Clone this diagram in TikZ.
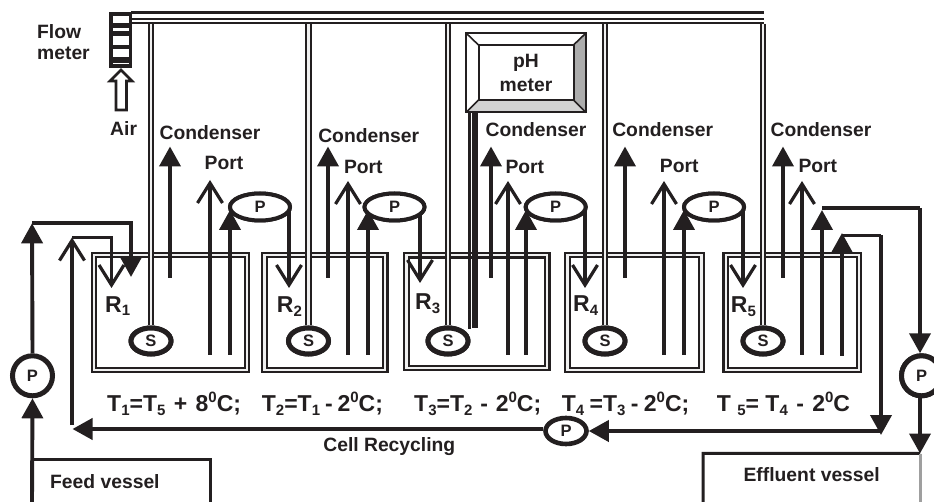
\documentclass[tikz,border=0pt]{standalone}
\usepackage{fontspec}
\setmainfont{Liberation Sans}
\usetikzlibrary{arrows.meta,shapes.geometric}
\newcommand{\lblfont}{\bfseries\fontsize{19.3}{23}\selectfont}
\newcommand{\pumpfont}{\bfseries\fontsize{16.5}{18}\selectfont}
\newcommand{\rfont}{\bfseries\fontsize{23}{26}\selectfont}
\newcommand{\tfont}{\bfseries\fontsize{23}{26}\selectfont}
\newcommand{\subs}[1]{\raisebox{-3.5pt}{\fontsize{15}{17}\selectfont #1}}
\newcommand{\sups}[1]{\raisebox{9pt}{\fontsize{15}{17}\selectfont #1}}
\definecolor{ink}{HTML}{231F20}
\tikzset{
  ink/.style={draw=ink,text=ink},
  lbl/.style={text=ink,font=\lblfont,inner sep=0pt,align=center},
  rlbl/.style={text=ink,font=\rfont,inner sep=0pt,anchor=base west},
  tlbl/.style={text=ink,font=\tfont,inner sep=0pt,anchor=base west},
  reactor/.style={rectangle,draw=ink,line width=2.2pt,double=gray!12,double distance=2.2pt,inner sep=0pt},
  airline/.style={draw=ink,line width=2pt,double=gray!12,double distance=2.8pt},
  pipe/.style={draw=ink,line width=3.9pt},
  thinpipe/.style={draw=ink,line width=3.2pt},
  filled/.style={pipe,-{Triangle[length=20pt,width=21pt]}},
  barb/.style={pipe,-{Straight Barb[length=20pt,width=25pt,line width=3.2pt]}},
  smallpump/.style={ellipse,draw=ink,fill=white,line width=4pt,minimum width=60pt,minimum height=27pt,inner sep=0pt,font=\pumpfont,text=ink},
  stirrer/.style={ellipse,draw=ink,fill=white,line width=5pt,minimum width=40pt,minimum height=26pt,inner sep=0pt,font=\pumpfont,text=ink},
  bigpump/.style={circle,draw=ink,fill=white,line width=5pt,minimum size=40pt,inner sep=0pt,font=\pumpfont,text=ink},
  vessel/.style={draw=ink,line width=3pt},
  cellband/.style={draw=ink}
}
\begin{document}
\begin{tikzpicture}[x=1pt,y=-1pt]
\clip (0,0) rectangle (934,502);
\fill[white] (0,0) rectangle (934,502);

% reactors
\node[reactor,minimum width=152.9pt,minimum height=114.9pt] (r1) at (170.4,312.4) {};
\node[reactor,minimum width=120.9pt,minimum height=114.9pt] (r2) at (324.9,312.6) {};
\node[reactor,minimum width=140.9pt,minimum height=112.9pt] (r3) at (476.9,311.7) {};
\node[reactor,minimum width=133.9pt,minimum height=114.9pt] (r4) at (634.5,312.4) {};
\node[reactor,minimum width=133.4pt,minimum height=114.9pt] (r5) at (792.3,312.4) {};

% stirrers
\node[stirrer] (s1) at (151,341) {S};
\node[stirrer] (s2) at (308.5,341) {S};
\node[stirrer] (s3) at (448,341) {S};
\node[stirrer] (s4) at (605,341) {S};
\node[stirrer] (s5) at (763,341) {S};

% air header
\coordinate (hl) at (131,18);
\coordinate (hr) at (764,18);
\draw[draw=ink,line width=2.2pt] ([yshift=-4.7pt]hl) -- ([yshift=-4.7pt]hr);
\draw[draw=ink,line width=2pt] ([yshift=-1.3pt]hl) -- ([yshift=-1.3pt]hr);
\draw[draw=ink,line width=2.8pt] ([yshift=5.6pt]hl) -- ([yshift=5.6pt]hr);
\foreach \i in {1,...,5}{
  \draw[airline] (s\i.north |- hl) ++(0,6) -- (s\i.north);
}
\foreach \i in {1,...,5}{
  \node[stirrer] at (s\i) {S};
}

% flow meter
\node[draw=ink,line width=3.8pt,fill=white,minimum width=19.5pt,minimum height=52pt,inner sep=0pt] (fm) at (120.7,39.7) {};
\draw[draw=ink,line width=4.4pt] (fm.west |- 0,25.5) -- (fm.east |- 0,25.5);
\draw[draw=ink,line width=5pt] (fm.west |- 0,33.5) -- (fm.east |- 0,33.5);
\draw[draw=ink,line width=4.3pt] (fm.west |- 0,47.2) -- (fm.east |- 0,47.2);
\draw[draw=ink,line width=5.4pt] (fm.west |- 0,60) -- (fm.east |- 0,60);

% air arrow
\coordinate (airtip) at (121,70);
\draw[draw=ink,line width=2.6pt,fill=white,line join=miter] (airtip) -- (110,81) -- (116,81) -- (116,110) -- (126.5,110) -- (126.5,81) -- (132,81) -- cycle;

% labels top-left
\node[lbl,anchor=west] (flow) at (37,31.7) {Flow};
\node[lbl,anchor=west] (meter) at (37,53.5) {meter};
\node[lbl,anchor=west] (air) at (110,128.5) {Air};

% pH meter
\coordinate (pa) at (466,33);
\coordinate (pb) at (586,33);
\coordinate (pc) at (586,112.5);
\coordinate (pd) at (466,112.5);
\coordinate (qa) at (478.5,45);
\coordinate (qb) at (573.5,45);
\coordinate (qc) at (573.5,100);
\coordinate (qd) at (478.5,100);
\fill[white] (pa) -- (pb) -- (pc) -- (pd) -- cycle;
\fill[gray!65] (pb) -- (pc) -- (qc) -- (qb) -- cycle;
\fill[gray!35] (pc) -- (pd) -- (qd) -- (qc) -- cycle;
\draw[draw=ink,line width=2pt,line join=miter] (pa) -- (pb) -- (pc) -- (pd) -- cycle;
\draw[draw=ink,line width=2pt,line join=miter] (qa) -- (qb) -- (qc) -- (qd) -- cycle;
\draw[draw=ink,line width=1.6pt] (pa) -- (qa) (pb) -- (qb) (pc) -- (qc) (pd) -- (qd);
\node[lbl] (ph1) at (526,63) {pH};
\node[lbl] (ph2) at (526,85) {meter};

% electrode
\coordinate (e1) at (469.5,329.5);
\coordinate (e2) at (475,328.5);
\draw[draw=ink,line width=2.6pt] (e1 |- pd) -- (e1);
\draw[draw=ink,line width=6pt] (e2 |- pd) -- (e2);

% condenser lines
\coordinate (c1) at (170,146.5);
\coordinate (c2) at (328,146.5);
\coordinate (c3) at (491,146.5);
\coordinate (c4) at (625,146.5);
\coordinate (c5) at (783,146.5);
\foreach \i in {1,...,5}{
  \draw[filled] (c\i |- 0,278) -- (c\i);
}

% port lines
\coordinate (o1) at (210,180);
\coordinate (o2) at (348,181);
\coordinate (o3) at (508,181);
\coordinate (o4) at (664,181);
\coordinate (o5) at (802,181);
\foreach \i in {1,...,5}{
  \draw[barb] (o\i |- 0,355) -- (o\i);
}

% small pumps and transfer lines
\node[smallpump] (p1) at (260,207) {P};
\node[smallpump] (p2) at (394.5,207) {P};
\node[smallpump] (p3) at (555.7,207) {P};
\node[smallpump] (p4) at (714,207) {P};

\coordinate (d2) at (289,288);
\coordinate (d3) at (420,283);
\coordinate (d4) at (585,288);
\coordinate (d5) at (743,288);
\draw[barb] (p1 -| d2) -- (d2);
\draw[barb] (p2 -| d3) -- (d3);
\draw[barb] (p3 -| d4) -- (d4);
\draw[barb] (p4 -| d5) -- (d5);
\node[smallpump] at (p1) {P};
\node[smallpump] at (p2) {P};
\node[smallpump] at (p3) {P};
\node[smallpump] at (p4) {P};

\coordinate (u1) at (230,210);
\coordinate (u2) at (368,210);
\coordinate (u3) at (526,210);
\coordinate (u4) at (684,210);
\foreach \i in {1,...,4}{
  \draw[filled] (u\i |- 0,355) -- (u\i);
}

% feed side
\node[bigpump] (pf) at (32.5,375.8) {P};
\coordinate (f0) at (32,223.3);
\coordinate (f1) at (131,223.3);
\coordinate (f2) at (131,277);
\coordinate (fb) at (32,502);
\draw[filled] (fb) -- (pf.south);
\draw[filled] (pf.north) -- (f0);
\draw[filled] (f0) -- (f1) -- (f2);

% effluent side
\node[bigpump] (pe) at (921.5,375.8) {P};
\coordinate (x0) at (822,210);
\coordinate (x1) at (920,208);
\draw[filled] (x0 |- 0,355) -- (x0);
\draw[thinpipe] (x0 |- x1) -- (x1);
\draw[filled] (x1) -- (x1 |- pe.north);
\node[bigpump] at (pe) {P};
\coordinate (ev) at (920,453.5);
\draw[filled] (x1 |- pe.south) -- (ev);

% recycling
\node[stirrer,minimum width=41pt,line width=4.6pt] (pr) at (566,431) {P};
\coordinate (y0) at (842,233);
\coordinate (y1) at (881,235.5);
\coordinate (y2) at (881,435);
\coordinate (y3) at (881,431);
\coordinate (l0) at (72.5,429);
\coordinate (l1) at (72,237.5);
\coordinate (l2) at (111.5,237.5);
\coordinate (l3) at (111.5,288);
\draw[filled] (y0 |- 0,356) -- (y0);
\draw[pipe] (y0 |- y1) -- (y1);
\draw[filled] (y1) -- (y2);
\draw[filled] (y3) -- (pr.east |- y3);
\draw[filled] (pr.west |- l0) -- (l0);
\draw[barb] (l1 |- 0,425) -- (l1);
\draw[barb] (l1) -- (l2) -- (l3);

% vessels
\draw[vessel] (fb) -- (32,459) -- (210,459) -- (210,502);
\draw[vessel] (703,502) -- (703,453.3) -- (ev);
\draw[vessel,draw=gray!75] (ev) -- (920,502);
\node[lbl,anchor=west] (feed) at (50,482) {Feed vessel};
\node[lbl] (eff) at (811.7,475) {Effluent vessel};
\node[lbl] (cell) at (389.3,447) {Cell Recycling};

% condenser / port labels
\node[lbl] (lc1) at (210,133) {Condenser};
\node[lbl] (lc2) at (368.7,135.7) {Condenser};
\node[lbl] (lc3) at (536,129.5) {Condenser};
\node[lbl] (lc4) at (662.7,129.5) {Condenser};
\node[lbl] (lc5) at (821,129.5) {Condenser};
\node[lbl] (lp1) at (224,163) {Port};
\node[lbl] (lp2) at (363.3,166.5) {Port};
\node[lbl] (lp3) at (524.8,166.5) {Port};
\node[lbl] (lp4) at (679.2,165.7) {Port};
\node[lbl] (lp5) at (817.8,165.7) {Port};

% reactor labels
\node[rlbl] (n1) at (105,312.3) {R\subs{1}};
\node[rlbl] (n2) at (276.7,313) {R\subs{2}};
\node[rlbl] (n3) at (415,310) {R\subs{3}};
\node[rlbl] (n4) at (573,312) {R\subs{4}};
\node[rlbl] (n5) at (730.7,313) {R\subs{5}};

% temperature labels
\node[tlbl] (t1) at (107,411.7) {T\subs{1}=T\subs{5}\kern2pt{} + \kern2pt 8\sups{0}C;};
\node[tlbl] (t2) at (261.7,411.7) {T\subs{2}=T\subs{1}\kern-1.5pt{} - \kern-1.5pt 2\sups{0}C;};
\node[tlbl] (t3) at (414,411.7) {T\subs{3}=T\subs{2}\kern1.5pt{} - \kern1.5pt 2\sups{0}C;};
\node[tlbl] (t4) at (561.7,411.7) {T\subs{4}\kern-1pt{} =T\subs{3}\kern-1pt{} - \kern-1pt 2\sups{0}C;};
\node[tlbl] (t5) at (716.7,411.7) {T \subs{5}= T\subs{4}\kern2pt{} - \kern2pt 2\sups{0}C};
\end{tikzpicture}
\end{document}
